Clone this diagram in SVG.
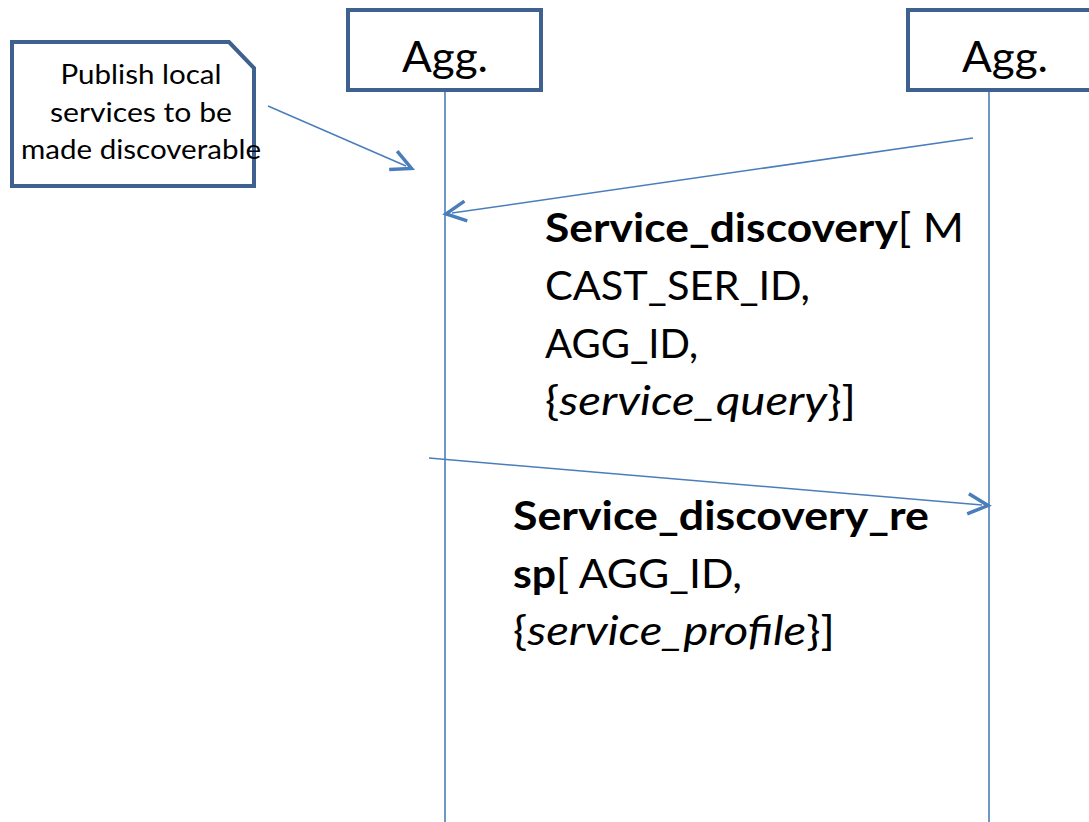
<svg xmlns="http://www.w3.org/2000/svg" width="1089" height="822" viewBox="0 0 1089 822">
  <style>
    .box { fill: #ffffff; stroke: #3f6190; stroke-width: 4; }
    .life { stroke: #4a7ebb; stroke-width: 1.6; fill: none; }
    .msg { stroke: #4a7ebb; stroke-width: 1.5; fill: none; }
    .actor { font-family: Lato, "Open Sans", sans-serif; font-size: 42px; fill: #000; text-anchor: middle; }
    .note { font-family: Lato, "Open Sans", sans-serif; font-size: 27px; fill: #000; text-anchor: middle; }
    .label { font-family: Lato, "Open Sans", sans-serif; font-size: 40px; fill: #000; }
    .b { font-weight: bold; }
    .i { font-style: italic; }
  </style>
  <defs>
    <marker id="open-arrow" markerUnits="userSpaceOnUse" markerWidth="40" markerHeight="40" viewBox="-25 -15 40 30" refX="0" refY="0" orient="auto" overflow="visible">
      <path d="M-14,-10 L6,0 L-14,10" fill="none" stroke="#4a7ebb" stroke-width="3.5"/>
    </marker>
  </defs>

  <!-- lifelines -->
  <g id="lifelines">
    <line class="life" x1="445" y1="91" x2="445" y2="822"/>
    <line class="life" x1="989" y1="91" x2="989" y2="822"/>
  </g>

  <!-- participant: left aggregator -->
  <g id="agg-left">
    <rect class="box" x="348" y="10" width="193" height="80"/>
    <text class="actor" x="445" y="72" textLength="86" lengthAdjust="spacingAndGlyphs">Agg.</text>
  </g>

  <!-- participant: right aggregator -->
  <g id="agg-right">
    <rect class="box" x="908" y="10" width="193" height="80"/>
    <text class="actor" x="1005" y="72" textLength="86" lengthAdjust="spacingAndGlyphs">Agg.</text>
  </g>

  <!-- note with folded corner -->
  <g id="note">
    <path class="box" d="M12,42 L229,42 L254,68 L254,186 L12,186 Z"/>
    <text class="note" x="141" y="84" textLength="161" lengthAdjust="spacingAndGlyphs">Publish local</text>
    <text class="note" x="141" y="122" textLength="182" lengthAdjust="spacingAndGlyphs">services to be</text>
    <text class="note" x="141" y="159" textLength="240" lengthAdjust="spacingAndGlyphs">made discoverable</text>
  </g>

  <!-- connectors -->
  <g id="connectors">
    <line class="msg" x1="268" y1="106" x2="406" y2="166" marker-end="url(#open-arrow)"/>
    <line class="msg" x1="973" y1="138" x2="452" y2="213" marker-end="url(#open-arrow)"/>
    <line class="msg" x1="429" y1="458" x2="982" y2="505" marker-end="url(#open-arrow)"/>
  </g>

  <!-- message labels -->
  <g id="label-discovery">
    <text class="label" x="545" y="242" textLength="419" lengthAdjust="spacingAndGlyphs"><tspan class="b">Service_discovery</tspan>[ M</text>
    <text class="label" x="545" y="300" textLength="265" lengthAdjust="spacingAndGlyphs">CAST_SER_ID,</text>
    <text class="label" x="545" y="358" textLength="153" lengthAdjust="spacingAndGlyphs">AGG_ID,</text>
    <text class="label" x="545" y="415" textLength="311" lengthAdjust="spacingAndGlyphs">{<tspan class="i">service_query</tspan>}]</text>
  </g>
  <g id="label-discovery-resp">
    <text class="label" x="513" y="530" textLength="416" lengthAdjust="spacingAndGlyphs"><tspan class="b">Service_discovery_re</tspan></text>
    <text class="label" x="513" y="588" textLength="229" lengthAdjust="spacingAndGlyphs"><tspan class="b">sp</tspan>[ AGG_ID,</text>
    <text class="label" x="513" y="645" textLength="322" lengthAdjust="spacingAndGlyphs">{<tspan class="i">service_profile</tspan>}]</text>
  </g>
</svg>
